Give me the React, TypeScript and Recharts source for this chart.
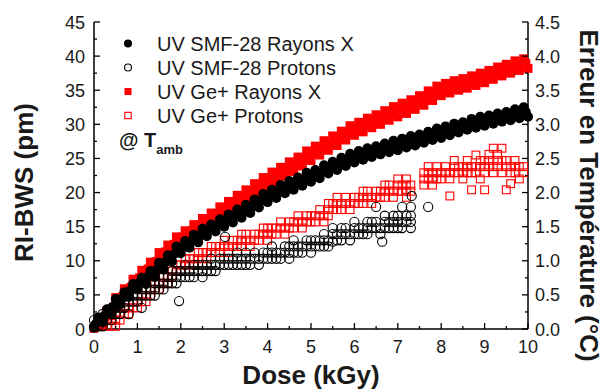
import React from "react"
import { ScatterChart, Scatter, XAxis, YAxis, Label } from "recharts"

// doses (kGy) des mesures sous rayons X
const DOSE_XRAY = [
  0.0, 0.1, 0.2, 0.3, 0.4, 0.5, 0.6, 0.7, 0.8, 0.9,
  1.0, 1.1, 1.2, 1.3, 1.4, 1.5, 1.6, 1.7, 1.8, 1.9,
  2.0, 2.1, 2.2, 2.3, 2.4, 2.5, 2.6, 2.7, 2.8, 2.9,
  3.0, 3.1, 3.2, 3.3, 3.4, 3.5, 3.6, 3.7, 3.8, 3.9,
  4.0, 4.1, 4.2, 4.3, 4.4, 4.5, 4.6, 4.7, 4.8, 4.9,
  5.0, 5.1, 5.2, 5.3, 5.4, 5.5, 5.6, 5.7, 5.8, 5.9,
  6.0, 6.1, 6.2, 6.3, 6.4, 6.5, 6.6, 6.7, 6.8, 6.9,
  7.0, 7.1, 7.2, 7.3, 7.4, 7.5, 7.6, 7.7, 7.8, 7.9,
  8.0, 8.1, 8.2, 8.3, 8.4, 8.5, 8.6, 8.7, 8.8, 8.9,
  9.0, 9.1, 9.2, 9.3, 9.4, 9.5, 9.6, 9.7, 9.8, 9.9,
  10.0,
]

const SMF_XRAY_RI = [
  0.2, 1.7, 1.0, 2.9, 2.3, 4.4, 3.6, 5.4, 4.7, 6.6,
  5.9, 7.5, 6.6, 8.5, 7.6, 9.7, 8.7, 10.8, 9.9, 12.1,
  11.1, 12.9, 11.9, 13.8, 12.7, 14.7, 13.6, 15.3, 14.3, 16.1,
  15.0, 16.8, 15.6, 17.5, 16.3, 18.2, 17.0, 19.0, 17.8, 19.8,
  18.6, 20.4, 19.2, 21.1, 19.9, 21.7, 20.4, 22.2, 21.0, 22.9,
  21.6, 23.3, 22.1, 24.0, 22.8, 24.5, 23.3, 25.1, 23.9, 25.7,
  24.4, 26.1, 24.8, 26.5, 25.2, 26.8, 25.6, 27.2, 25.9, 27.6,
  26.2, 27.9, 26.6, 28.3, 26.9, 28.5, 27.3, 28.9, 27.7, 29.4,
  28.0, 29.7, 28.4, 30.1, 28.8, 30.3, 29.2, 30.8, 29.5, 31.1,
  29.8, 31.3, 30.1, 31.6, 30.4, 31.8, 30.6, 32.2, 30.9, 32.5,
  31.1,
]

const GE_XRAY_RI = [
  0.1, 1.0, 0.6, 2.7, 2.0, 4.6, 3.7, 5.9, 5.0, 7.3,
  6.5, 8.6, 7.7, 9.8, 8.9, 11.2, 10.2, 12.3, 11.3, 13.5,
  12.5, 14.4, 13.4, 15.3, 14.3, 16.2, 15.0, 17.0, 15.8, 17.9,
  16.7, 18.7, 17.4, 19.6, 18.3, 20.4, 19.1, 21.3, 20.0, 22.2,
  20.9, 23.0, 21.6, 23.7, 22.4, 24.5, 23.1, 25.2, 23.9, 26.1,
  24.7, 26.8, 25.5, 27.6, 26.2, 28.3, 26.9, 29.0, 27.7, 29.8,
  28.4, 30.3, 28.9, 30.9, 29.5, 31.4, 30.0, 32.0, 30.6, 32.6,
  31.1, 33.1, 31.6, 33.6, 32.2, 34.2, 32.8, 34.9, 33.5, 35.6,
  34.2, 36.0, 34.6, 36.4, 35.0, 36.7, 35.3, 37.1, 35.7, 37.5,
  36.1, 37.9, 36.6, 38.4, 37.1, 38.8, 37.5, 39.3, 37.9, 39.6,
  38.2,
]

// points intermédiaires de la bande dense (rayons X)
const DOSE_XRAY_MID = [
  0.05, 0.15, 0.25, 0.35, 0.45, 0.55, 0.65, 0.75, 0.85, 0.95,
  1.05, 1.15, 1.25, 1.35, 1.45, 1.55, 1.65, 1.75, 1.85, 1.95,
  2.05, 2.15, 2.25, 2.35, 2.45, 2.55, 2.65, 2.75, 2.85, 2.95,
  3.05, 3.15, 3.25, 3.35, 3.45, 3.55, 3.65, 3.75, 3.85, 3.95,
  4.05, 4.15, 4.25, 4.35, 4.45, 4.55, 4.65, 4.75, 4.85, 4.95,
  5.05, 5.15, 5.25, 5.35, 5.45, 5.55, 5.65, 5.75, 5.85, 5.95,
  6.05, 6.15, 6.25, 6.35, 6.45, 6.55, 6.65, 6.75, 6.85, 6.95,
  7.05, 7.15, 7.25, 7.35, 7.45, 7.55, 7.65, 7.75, 7.85, 7.95,
  8.05, 8.15, 8.25, 8.35, 8.45, 8.55, 8.65, 8.75, 8.85, 8.95,
  9.05, 9.15, 9.25, 9.35, 9.45, 9.55, 9.65, 9.75, 9.85, 9.95,
]

const SMF_XRAY_RI_MID = [
  0.8, 1.4, 2.0, 2.6, 3.3, 3.9, 4.5, 5.1, 5.7, 6.2,
  6.8, 7.2, 7.7, 8.1, 8.7, 9.2, 9.8, 10.4, 11.0, 11.6,
  12.0, 12.4, 12.9, 13.3, 13.7, 14.1, 14.5, 14.8, 15.2, 15.6,
  15.9, 16.2, 16.6, 16.9, 17.3, 17.6, 18.0, 18.4, 18.8, 19.2,
  19.5, 19.8, 20.1, 20.5, 20.8, 21.1, 21.3, 21.6, 21.9, 22.2,
  22.4, 22.7, 23.0, 23.3, 23.6, 23.9, 24.2, 24.5, 24.8, 25.0,
  25.3, 25.5, 25.7, 25.9, 26.1, 26.2, 26.4, 26.6, 26.8, 26.9,
  27.1, 27.3, 27.4, 27.6, 27.8, 27.9, 28.1, 28.3, 28.5, 28.7,
  28.9, 29.0, 29.2, 29.4, 29.6, 29.7, 29.9, 30.1, 30.3, 30.4,
  30.6, 30.7, 30.9, 31.0, 31.1, 31.2, 31.4, 31.5, 31.7, 31.8,
]

const GE_XRAY_RI_MID = [
  0.5, 1.1, 1.8, 2.4, 3.2, 3.9, 4.7, 5.4, 6.1, 6.8,
  7.5, 8.1, 8.8, 9.3, 9.9, 10.6, 11.3, 11.8, 12.4, 13.0,
  13.5, 13.9, 14.4, 14.8, 15.3, 15.7, 16.1, 16.4, 16.9, 17.3,
  17.7, 18.0, 18.5, 18.9, 19.4, 19.8, 20.2, 20.6, 21.1, 21.5,
  21.9, 22.3, 22.6, 23.0, 23.4, 23.8, 24.1, 24.5, 24.9, 25.4,
  25.7, 26.1, 26.5, 26.9, 27.2, 27.6, 27.9, 28.3, 28.7, 29.0,
  29.4, 29.6, 29.9, 30.2, 30.5, 30.7, 31.0, 31.3, 31.6, 31.8,
  32.1, 32.4, 32.6, 32.9, 33.2, 33.5, 33.8, 34.2, 34.5, 34.9,
  35.1, 35.3, 35.5, 35.7, 35.9, 36.0, 36.2, 36.4, 36.6, 36.8,
  37.0, 37.2, 37.5, 37.7, 37.9, 38.1, 38.4, 38.6, 38.8, 38.9,
]

// [dose, RI-BWS] sous protons
const SMF_PROTONS: [number, number][] = [
  [0, 0.4], [0, 1.3], [0.1, 0.4], [0.1, 1.3], [0.2, 0.4], [0.2, 1.3], [0.2, 2.2], [0.3, 1.3], [0.3, 2.2],
  [0.4, 1.3], [0.4, 2.2], [0.4, 3.1], [0.5, 2.2], [0.5, 3.1], [0.6, 2.2], [0.6, 3.1], [0.6, 4.0], [0.7, 3.1],
  [0.7, 4.0], [0.8, 2.2], [0.8, 4.0], [0.8, 4.9], [0.9, 4.0], [0.9, 4.9], [1.0, 4.0], [1.0, 4.9], [1.0, 5.8],
  [1.1, 3.1], [1.1, 4.9], [1.1, 5.8], [1.2, 4.9], [1.2, 5.8], [1.2, 6.7], [1.3, 4.9], [1.3, 5.8], [1.4, 4.9],
  [1.4, 5.8], [1.4, 6.7], [1.5, 5.8], [1.5, 6.7], [1.6, 5.8], [1.6, 6.7], [1.6, 7.6], [1.7, 6.7], [1.7, 7.6],
  [1.8, 6.7], [1.8, 7.6], [1.8, 8.5], [1.9, 6.7], [1.9, 7.6], [1.9, 8.5], [1.96, 4.1], [2.0, 7.6], [2.0, 8.5],
  [2.1, 7.6], [2.1, 8.5], [2.1, 9.4], [2.2, 7.6], [2.2, 8.5], [2.3, 7.6], [2.3, 8.5], [2.3, 9.4], [2.4, 8.5],
  [2.4, 9.4], [2.5, 7.6], [2.5, 8.5], [2.5, 9.4], [2.6, 8.5], [2.6, 9.4], [2.7, 8.5], [2.7, 9.4], [2.7, 10.3],
  [2.8, 8.5], [2.8, 9.4], [2.9, 9.4], [2.9, 10.3], [3.0, 9.4], [3.0, 10.3], [3.02, 13.5], [3.1, 9.4], [3.1, 10.3],
  [3.2, 9.4], [3.2, 10.3], [3.3, 9.4], [3.3, 10.3], [3.3, 11.2], [3.4, 9.4], [3.4, 10.3], [3.5, 9.4], [3.5, 10.3],
  [3.5, 11.2], [3.6, 9.4], [3.6, 10.3], [3.7, 10.3], [3.7, 11.2], [3.8, 9.4], [3.8, 10.3], [3.9, 10.3], [3.9, 11.2],
  [4.0, 10.3], [4.0, 11.2], [4.1, 10.3], [4.1, 11.2], [4.1, 12.1], [4.2, 10.3], [4.2, 11.2], [4.3, 10.3], [4.3, 11.2],
  [4.4, 11.2], [4.4, 12.1], [4.5, 10.3], [4.5, 11.2], [4.5, 12.1], [4.6, 11.2], [4.6, 12.1], [4.6, 13.0], [4.7, 11.2],
  [4.7, 12.1], [4.8, 11.2], [4.8, 12.1], [4.9, 12.1], [4.9, 13.0], [5.0, 11.2], [5.0, 12.1], [5.0, 13.0], [5.1, 12.1],
  [5.1, 13.0], [5.2, 12.1], [5.2, 13.0], [5.3, 12.1], [5.3, 13.0], [5.3, 13.9], [5.4, 12.1], [5.4, 13.0], [5.5, 12.8],
  [5.5, 13.9], [5.5, 14.8], [5.6, 13.0], [5.6, 13.9], [5.7, 13.0], [5.7, 13.9], [5.7, 14.8], [5.8, 13.9], [5.8, 14.8],
  [5.9, 13.0], [5.9, 13.9], [6.0, 13.9], [6.0, 14.8], [6.0, 15.7], [6.1, 13.9], [6.1, 14.8], [6.2, 13.9], [6.2, 14.8],
  [6.3, 13.9], [6.3, 14.8], [6.3, 15.7], [6.4, 14.8], [6.4, 15.7], [6.5, 14.8], [6.5, 15.7], [6.5, 17.9], [6.6, 13.9],
  [6.6, 14.8], [6.64, 12.8], [6.7, 14.8], [6.7, 15.7], [6.7, 16.6], [6.8, 14.8], [6.8, 15.7], [6.9, 14.8], [6.9, 15.7],
  [6.9, 16.6], [7.0, 14.8], [7.0, 15.7], [7.0, 16.6], [7.1, 14.8], [7.1, 15.7], [7.1, 17.9], [7.2, 15.7], [7.2, 16.6],
  [7.3, 14.8], [7.3, 15.7], [7.3, 16.6], [7.3, 17.9], [7.32, 19.5], [7.7, 17.9],
]

const GE_PROTONS: [number, number][] = [
  [0.2, 0.4], [0.3, 0.4], [0.3, 1.3], [0.4, 0.4], [0.4, 1.3], [0.5, 0.4], [0.5, 1.3], [0.5, 2.2], [0.6, 1.3],
  [0.6, 2.2], [0.7, 2.2], [0.7, 3.1], [0.8, 2.2], [0.8, 3.1], [0.9, 3.1], [0.9, 4.0], [1.0, 3.1], [1.0, 4.0],
  [1.1, 4.0], [1.1, 4.9], [1.2, 4.0], [1.2, 4.9], [1.3, 4.9], [1.3, 5.8], [1.4, 5.8], [1.4, 6.7], [1.5, 5.8],
  [1.5, 6.7], [1.6, 6.7], [1.6, 7.6], [1.7, 6.7], [1.7, 7.6], [1.8, 7.6], [1.8, 8.5], [1.9, 8.5], [1.9, 9.4],
  [2.0, 8.5], [2.0, 9.4], [2.1, 9.4], [2.1, 10.3], [2.2, 9.4], [2.2, 10.3], [2.3, 9.4], [2.3, 10.3], [2.4, 10.3],
  [2.4, 11.2], [2.5, 10.3], [2.5, 11.2], [2.6, 10.3], [2.6, 11.2], [2.7, 11.2], [2.7, 12.1], [2.8, 11.2], [2.8, 12.1],
  [2.9, 11.2], [2.9, 12.1], [3.0, 12.1], [3.0, 13.0], [3.1, 11.2], [3.1, 12.1], [3.2, 12.1], [3.2, 13.0], [3.3, 12.1],
  [3.3, 13.0], [3.4, 12.1], [3.4, 13.0], [3.4, 13.9], [3.5, 13.0], [3.5, 13.9], [3.6, 12.1], [3.6, 13.0], [3.7, 13.0],
  [3.7, 13.9], [3.8, 13.0], [3.8, 13.9], [3.9, 13.9], [3.9, 14.8], [4.0, 13.0], [4.0, 13.9], [4.0, 14.8], [4.1, 13.9],
  [4.1, 14.8], [4.2, 13.9], [4.2, 14.8], [4.3, 14.8], [4.3, 15.7], [4.4, 13.9], [4.4, 14.8], [4.5, 14.8], [4.5, 15.7],
  [4.6, 14.8], [4.6, 15.7], [4.7, 15.7], [4.7, 16.6], [4.8, 14.8], [4.8, 15.7], [4.9, 15.7], [4.9, 16.6], [5.0, 15.7],
  [5.0, 16.6], [5.1, 15.7], [5.1, 16.6], [5.2, 16.6], [5.2, 17.5], [5.3, 15.7], [5.3, 16.6], [5.4, 16.6], [5.4, 17.5],
  [5.4, 18.4], [5.5, 17.5], [5.5, 18.4], [5.6, 17.5], [5.6, 18.4], [5.6, 19.3], [5.7, 17.5], [5.7, 18.4], [5.8, 18.4],
  [5.8, 19.3], [5.9, 17.5], [5.9, 18.4], [6.0, 18.4], [6.0, 19.3], [6.1, 18.4], [6.1, 19.3], [6.2, 18.4], [6.2, 19.3],
  [6.2, 20.2], [6.3, 19.3], [6.3, 20.2], [6.4, 18.4], [6.4, 19.3], [6.5, 19.3], [6.5, 20.2], [6.6, 19.3], [6.6, 20.2],
  [6.7, 19.3], [6.7, 20.2], [6.7, 21.1], [6.8, 20.2], [6.8, 21.1], [6.9, 19.3], [6.9, 20.2], [7.0, 20.2], [7.0, 21.1],
  [7.0, 22.0], [7.1, 20.2], [7.1, 21.1], [7.2, 19.3], [7.2, 20.2], [7.2, 21.1], [7.2, 22.0], [7.3, 20.2], [7.3, 21.1],
  [7.6, 21.1], [7.6, 22.0], [7.6, 22.9], [7.7, 22.0], [7.7, 22.9], [7.7, 23.8], [7.8, 21.1], [7.8, 22.0], [7.8, 22.9],
  [7.9, 22.0], [7.9, 22.9], [7.9, 23.8], [8.0, 22.0], [8.0, 22.9], [8.1, 22.9], [8.1, 23.8], [8.2, 19.5], [8.2, 22.0],
  [8.2, 22.9], [8.3, 22.9], [8.3, 23.8], [8.3, 24.7], [8.4, 22.9], [8.4, 23.8], [8.5, 22.0], [8.5, 22.9], [8.5, 23.8],
  [8.6, 22.9], [8.6, 23.8], [8.6, 24.7], [8.7, 20.4], [8.7, 22.9], [8.7, 23.8], [8.8, 22.9], [8.8, 23.8], [8.8, 25.5],
  [8.9, 22.0], [8.9, 23.8], [8.9, 24.7], [9.0, 20.4], [9.0, 22.9], [9.0, 23.8], [9.0, 24.7], [9.1, 23.8], [9.1, 24.7],
  [9.1, 25.6], [9.2, 22.9], [9.2, 23.8], [9.2, 26.5], [9.3, 23.8], [9.3, 24.7], [9.3, 25.6], [9.4, 22.9], [9.4, 24.7],
  [9.4, 26.5], [9.5, 20.4], [9.5, 23.8], [9.5, 24.7], [9.6, 21.3], [9.6, 22.9], [9.6, 23.8], [9.7, 22.9], [9.7, 23.8],
  [9.7, 24.7], [9.8, 22.0], [9.8, 23.8], [9.9, 22.9], [9.9, 23.8],
]

const SERIES_NAMES = ["UV SMF-28 Rayons X", "UV SMF-28 Protons", "UV Ge+ Rayons X", "UV Ge+ Protons"]

const X_TICKS = [0, 0.5, 1, 1.5, 2, 2.5, 3, 3.5, 4, 4.5, 5, 5.5, 6, 6.5, 7, 7.5, 8, 8.5, 9, 9.5, 10]
const Y_TICKS = [0, 2.5, 5, 7.5, 10, 12.5, 15, 17.5, 20, 22.5, 25, 27.5, 30, 32.5, 35, 37.5, 40, 42.5, 45]
const T_TICKS = [0, 0.25, 0.5, 0.75, 1, 1.25, 1.5, 1.75, 2, 2.25, 2.5, 2.75, 3, 3.25, 3.5, 3.75, 4, 4.25, 4.5]

// sensibilité : 10 pm par °C (axe de droite)
const PM_PER_DEG = 10

const FONT = "'Liberation Sans', Arial, Helvetica, sans-serif"
const RED = "#ff0000"
const INK = "#1a1a1a"

const smfXray = [
  ...DOSE_XRAY.map((d, i) => ({ x: d, y: SMF_XRAY_RI[i] })),
  ...DOSE_XRAY_MID.map((d, i) => ({ x: d, y: SMF_XRAY_RI_MID[i] })),
]
const geXray = [
  ...DOSE_XRAY.map((d, i) => ({ x: d, y: GE_XRAY_RI[i] })),
  ...DOSE_XRAY_MID.map((d, i) => ({ x: d, y: GE_XRAY_RI_MID[i] })),
]
const smfProtons = SMF_PROTONS.map(([x, y]) => ({ x, y }))
// les Ge+ protons sont portés par les axes haut / droite (erreur en °C)
const geProtons = GE_PROTONS.map(([x, y]) => ({ x, t: y / PM_PER_DEG }))

const FilledCircle = (p: any) => <circle cx={p.cx} cy={p.cy} r={5} fill="#000" />
const OpenCircle = (p: any) => (
  <circle cx={p.cx} cy={p.cy} r={4.6} fill="none" stroke="#000" strokeWidth={1.1} />
)
const FilledSquare = (p: any) => <rect x={p.cx - 4.5} y={p.cy - 4.5} width={9} height={9} fill={RED} />
const OpenSquare = (p: any) => (
  <rect x={p.cx - 3.9} y={p.cy - 3.9} width={7.8} height={7.8} fill="none" stroke={RED} strokeWidth={1.1} />
)

// ticks vers l'intérieur, mineurs sans étiquette
const BottomTick = ({ x, y, payload }: any) => {
  const major = Number.isInteger(payload.value)
  return (
    <g>
      <line x1={x} x2={x} y1={y} y2={y - (major ? 6 : 3)} stroke="#000" strokeWidth={1.3} />
      {major && (
        <text x={x} y={y + 24} textAnchor="middle" fontSize={18} fontFamily={FONT} fill={INK}>
          {payload.value}
        </text>
      )}
    </g>
  )
}

const TopTick = ({ x, y, payload }: any) => {
  const major = Number.isInteger(payload.value)
  return <line x1={x} x2={x} y1={y} y2={y + (major ? 6 : 3)} stroke="#000" strokeWidth={1.3} />
}

const LeftTick = ({ x, y, payload }: any) => {
  const major = payload.value % 5 === 0
  return (
    <g>
      <line x1={x} x2={x + (major ? 6 : 3)} y1={y} y2={y} stroke="#000" strokeWidth={1.3} />
      {major && (
        <text x={x - 9} y={y + 6.5} textAnchor="end" fontSize={18} fontFamily={FONT} fill={INK}>
          {payload.value}
        </text>
      )}
    </g>
  )
}

const RightTick = ({ x, y, payload }: any) => {
  const major = Math.round(payload.value * 4) % 2 === 0
  return (
    <g>
      <line x1={x} x2={x - (major ? 6 : 3)} y1={y} y2={y} stroke="#000" strokeWidth={1.3} />
      {major && (
        <text x={x + 7} y={y + 6.5} textAnchor="start" fontSize={18} fontFamily={FONT} fill={INK}>
          {payload.value.toFixed(1)}
        </text>
      )}
    </g>
  )
}

const LEGEND_MARKERS = [
  <circle cx={0} cy={0} r={4} fill="#000" />,
  <circle cx={0} cy={0} r={3.5} fill="none" stroke="#000" strokeWidth={1.1} />,
  <rect x={-3.5} y={-3.5} width={7} height={7} fill={RED} />,
  <rect x={-3.2} y={-3.2} width={6.4} height={6.4} fill="none" stroke={RED} strokeWidth={1.1} />,
]

const Legendbox = () => (
  <svg
    width={603}
    height={392}
    style={{ position: "absolute", left: 0, top: 0, pointerEvents: "none" }}
  >
    {SERIES_NAMES.map((name, i) => (
      <g key={name} transform={`translate(0, ${43.5 + i * 24})`}>
        <g transform="translate(128, 0)">{LEGEND_MARKERS[i]}</g>
        <text x={157} y={7} fontSize={20} fontFamily={FONT} fill={INK}>
          {name}
        </text>
      </g>
    ))}
    <text x={119} y={147} fontSize={20} fontWeight="bold" fontFamily={FONT} fill={INK}>
      @ T
      <tspan dy={7} fontSize={13}>amb</tspan>
    </text>
  </svg>
)

export default function App() {
  return (
    <div style={{ position: "absolute", left: 0, top: 0, width: 603, height: 392, background: "#fff" }}>
      <ScatterChart width={603} height={392} margin={{ top: 22, right: 0, bottom: 0, left: 0 }}>
        <XAxis
          dataKey="x"
          type="number"
          domain={[0, 10]}
          ticks={X_TICKS}
          interval={0}
          height={63}
          tickSize={0}
          tickMargin={0}
          tickLine={false}
          tick={<BottomTick />}
          axisLine={{ stroke: "#000", strokeWidth: 1.5 }}
        >
          <Label
            content={({ viewBox }: any) => (
              <text
                x={viewBox.x + viewBox.width / 2}
                y={viewBox.y + 55}
                textAnchor="middle"
                fontSize={26}
                fontWeight="bold"
                fontFamily={FONT}
                fill={INK}
              >
                Dose (kGy)
              </text>
            )}
          />
        </XAxis>
        <XAxis
          xAxisId="top"
          dataKey="x"
          orientation="top"
          type="number"
          domain={[0, 10]}
          ticks={X_TICKS}
          interval={0}
          height={0}
          tickSize={0}
          tickMargin={0}
          tickLine={false}
          tick={<TopTick />}
          axisLine={{ stroke: "#000", strokeWidth: 1.5 }}
        />
        <YAxis
          dataKey="y"
          type="number"
          domain={[0, 45]}
          ticks={Y_TICKS}
          interval={0}
          width={94}
          tickSize={0}
          tickMargin={0}
          tickLine={false}
          tick={<LeftTick />}
          axisLine={{ stroke: "#000", strokeWidth: 1.5 }}
        >
          <Label
            content={({ viewBox }: any) => (
              <text
                transform={`translate(${viewBox.x + 33}, ${viewBox.y + viewBox.height / 2 + 7}) rotate(-90)`}
                textAnchor="middle"
                fontSize={26}
                fontWeight="bold"
                fontFamily={FONT}
                fill={INK}
              >
                RI-BWS (pm)
              </text>
            )}
          />
        </YAxis>
        <YAxis
          yAxisId="right"
          dataKey="t"
          orientation="right"
          type="number"
          domain={[0, 4.5]}
          ticks={T_TICKS}
          interval={0}
          width={75}
          tickSize={0}
          tickMargin={0}
          tickLine={false}
          tick={<RightTick />}
          axisLine={{ stroke: "#000", strokeWidth: 1.5 }}
        >
          <Label
            content={({ viewBox }: any) => (
              <text
                transform={`translate(${viewBox.x + 52}, ${viewBox.y + viewBox.height / 2 + 20}) rotate(90)`}
                textAnchor="middle"
                fontSize={26}
                fontWeight="bold"
                fontFamily={FONT}
                fill={INK}
              >
                Erreur en Température (°C)
              </text>
            )}
          />
        </YAxis>
        <Scatter name={SERIES_NAMES[2]} data={geXray} shape={FilledSquare} isAnimationActive={false} />
        <Scatter
          name={SERIES_NAMES[3]}
          data={geProtons}
          xAxisId="top"
          yAxisId="right"
          shape={OpenSquare}
          isAnimationActive={false}
        />
        <Scatter name={SERIES_NAMES[1]} data={smfProtons} shape={OpenCircle} isAnimationActive={false} />
        <Scatter name={SERIES_NAMES[0]} data={smfXray} shape={FilledCircle} isAnimationActive={false} />
      </ScatterChart>
      <Legendbox />
    </div>
  )
}
